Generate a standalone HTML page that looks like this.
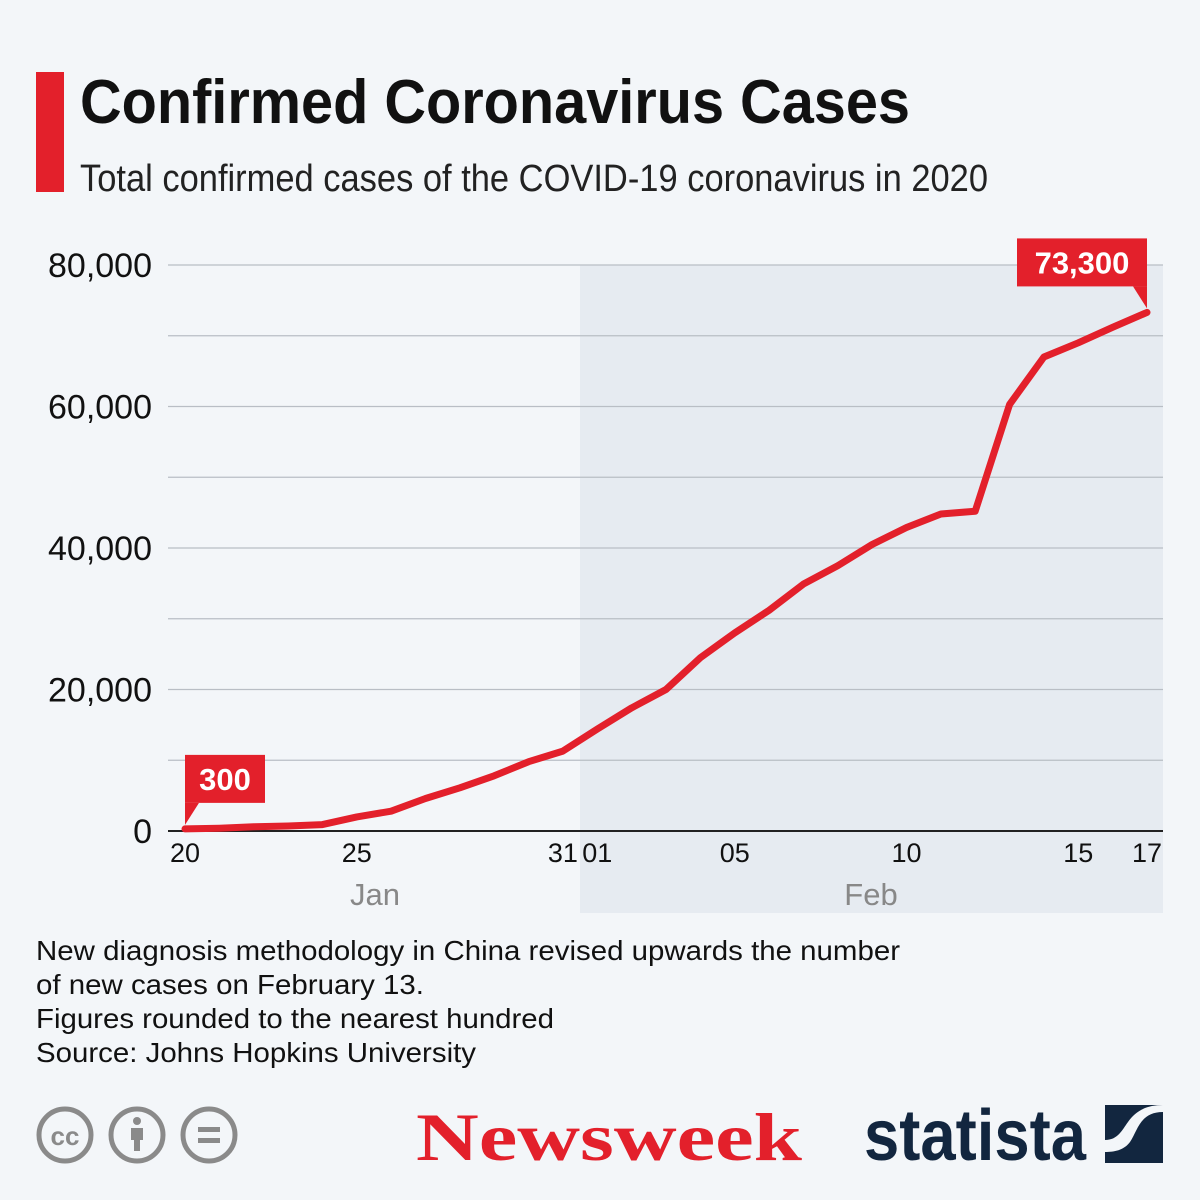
<!DOCTYPE html>
<html><head><meta charset="utf-8"><style>
body{margin:0;background:#f3f6f9;}
svg{display:block;}
.narrow{font-family:"Liberation Sans Narrow","Liberation Sans",sans-serif;}
.sans{font-family:"Liberation Sans",sans-serif;}
</style></head><body>
<svg id="chart" width="1200" height="1200" viewBox="0 0 1200 1200">
<rect x="0" y="0" width="1200" height="1200" fill="#f3f6f9"/>
<rect x="36" y="72" width="28" height="120" fill="#e3202b"/>
<text x="80" y="123" class="narrow" font-size="62" font-weight="bold" fill="#111" textLength="830" lengthAdjust="spacingAndGlyphs">Confirmed Coronavirus Cases</text>
<text x="80" y="191" class="narrow" font-size="38" fill="#222" textLength="908" lengthAdjust="spacingAndGlyphs">Total confirmed cases of the COVID-19 coronavirus in 2020</text>
<rect x="580" y="265" width="583" height="648" fill="#e6ebf1"/>
<g id="grid"></g>
<g id="xaxis"></g>
<g id="series"></g>
<g id="labels"></g>
<text x="36" y="960" class="sans" font-size="28" fill="#111" textLength="864" lengthAdjust="spacingAndGlyphs">New diagnosis methodology in China revised upwards the number</text>
<text x="36" y="994" class="sans" font-size="28" fill="#111" textLength="388" lengthAdjust="spacingAndGlyphs">of new cases on February 13.</text>
<text x="36" y="1028" class="sans" font-size="28" fill="#111" textLength="518" lengthAdjust="spacingAndGlyphs">Figures rounded to the nearest hundred</text>
<text x="36" y="1062" class="sans" font-size="28" fill="#111" textLength="440" lengthAdjust="spacingAndGlyphs">Source: Johns Hopkins University</text>
<g>
<circle cx="65" cy="1135" r="26" fill="none" stroke="#8a8a8a" stroke-width="5"/>
<text x="65" y="1145" text-anchor="middle" class="sans" font-size="26" font-weight="bold" fill="#8a8a8a">cc</text>
<circle cx="137" cy="1135" r="26" fill="none" stroke="#8a8a8a" stroke-width="5"/>
<circle cx="137" cy="1121" r="4" fill="#8a8a8a"/>
<rect x="131" y="1128" width="12" height="12" fill="#8a8a8a"/><rect x="134" y="1138" width="6" height="13" fill="#8a8a8a"/>
<circle cx="209" cy="1135" r="26" fill="none" stroke="#8a8a8a" stroke-width="5"/>
<rect x="198" y="1127" width="22" height="5" fill="#8a8a8a"/><rect x="198" y="1138" width="22" height="5" fill="#8a8a8a"/>
</g>
<text x="416" y="1160" font-family="'Liberation Serif',serif" font-size="68" font-weight="bold" fill="#e3202b" textLength="386" lengthAdjust="spacingAndGlyphs">Newsweek</text>
<text x="864" y="1160" class="narrow" font-size="72" font-weight="bold" fill="#12263f" textLength="222" lengthAdjust="spacingAndGlyphs">statista</text>
<g>
<rect x="1105" y="1105" width="58" height="58" fill="#12263f"/>
<path d="M1163 1112 C1140 1112 1138 1130 1130 1142 C1124 1150 1115 1152 1105 1152 L1105 1140 C1118 1140 1122 1130 1128 1122 C1135 1112 1145 1105 1163 1105 Z" fill="#f3f6f9"/>
</g>
</svg>
<script>
const days=["20","21","22","23","24","25","26","27","28","29","30","31","01","02","03","04","05","06","07","08","09","10","11","12","13","14","15","16","17"];
const cases=[300,400,600,700,900,2000,2800,4600,6100,7800,9800,11300,14400,17400,20000,24500,28000,31200,34900,37500,40500,42900,44800,45200,60300,67000,69000,71200,73300];
const yTicks=[0,20000,40000,60000,80000];
const xTickLabels=["20","25","31","01","05","10","15","17"];
const NS="http://www.w3.org/2000/svg";
const x0=185,dx=(1147-185)/28;
const xS=i=>x0+i*dx;
const yS=v=>831-v*(566/80000);
function mk(t,a,p){const e=document.createElementNS(NS,t);for(const k in a)e.setAttribute(k,a[k]);p.appendChild(e);return e;}
const grid=document.getElementById('grid');
for(let v=10000;v<=80000;v+=10000){
  const l=mk('line',{x1:168,x2:1163,y1:yS(v),y2:yS(v),stroke:'#b9bec5','stroke-width':1.3},grid);
  
  
}
yTicks.forEach(v=>{
  const t=mk('text',{x:152,y:yS(v)+12,'text-anchor':'end','font-family':'Liberation Sans,sans-serif','font-size':34,fill:'#111'},grid);
  t.textContent=v.toLocaleString('en-US');
  
  
});
const xa=document.getElementById('xaxis');
const axis=mk('line',{x1:168,x2:1163,y1:831,y2:831,stroke:'#222','stroke-width':2},xa);


xTickLabels.forEach(lbl=>{
  const i=days.indexOf(lbl);
  const t=mk('text',{x:xS(i),y:862,'text-anchor':'middle','font-family':'Liberation Sans,sans-serif','font-size':27,fill:'#111'},xa);
  t.textContent=lbl;
  
  
});
[["Jan",375],["Feb",871]].forEach(([m,x])=>{
  const t=mk('text',{x:x,y:905,'text-anchor':'middle','font-family':'Liberation Sans,sans-serif','font-size':31,fill:'#888'},xa);
  t.textContent=m;
  
  
});
const pts=cases.map((v,i)=>xS(i).toFixed(1)+','+yS(v).toFixed(1)).join(' ');
const line=mk('polyline',{points:pts,fill:'none',stroke:'#e3202b','stroke-width':7,'stroke-linejoin':'round','stroke-linecap':'round'},document.getElementById('series'));


const lab=document.getElementById('labels');
function callout(i,text,w,left){
  const px=xS(i),py=yS(cases[i]);
  const g=mk('g',{},lab);
  
  
  const top=py-74,h=48;
  let bx=left?px-w:px;
  mk('rect',{x:bx,y:top,width:w,height:h,fill:'#e3202b'},g);
  const tip=left?`${px-14},${top+h} ${px},${top+h} ${px},${py-4}`:`${px},${top+h} ${px+14},${top+h} ${px},${py-4}`;
  mk('polygon',{points:tip,fill:'#e3202b'},g);
  const t=mk('text',{x:bx+w/2,y:top+35,'text-anchor':'middle','font-family':'Liberation Sans,sans-serif','font-size':31,'font-weight':'bold',fill:'#fff'},g);
  t.textContent=text;
}
callout(0,cases[0].toLocaleString('en-US'),80,false);
callout(cases.length-1,cases[cases.length-1].toLocaleString('en-US'),130,true);
</script>
</body></html>
